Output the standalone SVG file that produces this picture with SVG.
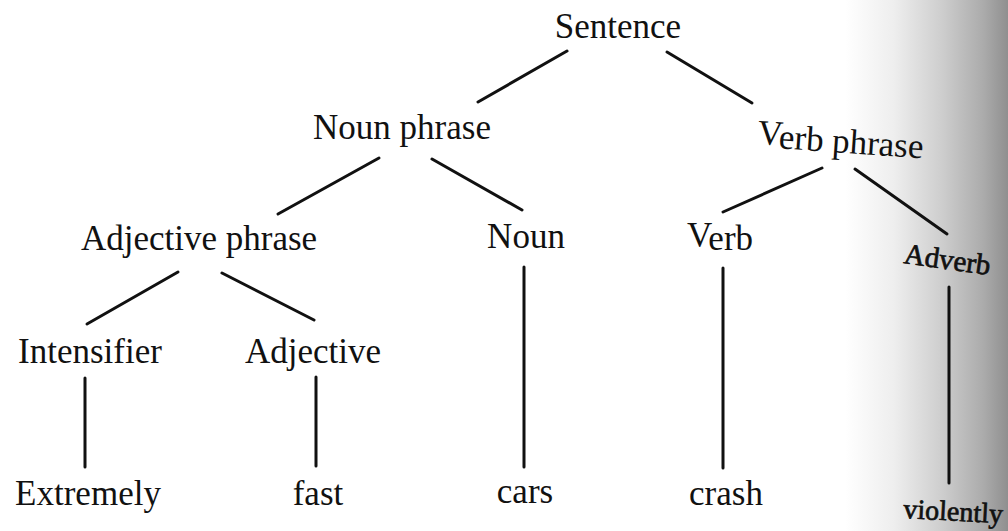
<svg xmlns="http://www.w3.org/2000/svg" width="1008" height="531" viewBox="0 0 1008 531">
  <defs>
    <linearGradient id="pageShade" x1="845" y1="0" x2="1008" y2="0" gradientUnits="userSpaceOnUse">
      <stop offset="0" stop-color="#ffffff"/>
      <stop offset="0.3" stop-color="#eeeeee"/>
      <stop offset="0.6" stop-color="#cdcdcd"/>
      <stop offset="0.85" stop-color="#ababab"/>
      <stop offset="1" stop-color="#8f8f8f"/>
    </linearGradient>
  </defs>
  <style>
    .lbl { font-family: "Liberation Serif", "Times New Roman", serif; font-size: 35px; fill: #111; text-anchor: middle; }
    .lbl.curl { font-size: 29px; text-anchor: start; stroke: #111; stroke-width: 0.7; }
    .edge { stroke: #111; stroke-width: 3; stroke-linecap: round; fill: none; }
  </style>

  <!-- paper, with the shading where the page bends towards the binding -->
  <rect x="0" y="0" width="1008" height="531" fill="#ffffff"/>
  <rect x="845" y="0" width="163" height="531" fill="url(#pageShade)"/>

  <!-- tree branches -->
  <g id="connectors">
    <line class="edge" x1="567" y1="51" x2="478" y2="102"/>
    <line class="edge" x1="667" y1="52" x2="752" y2="103"/>
    <line class="edge" x1="379" y1="158" x2="278" y2="214"/>
    <line class="edge" x1="432" y1="159" x2="522" y2="210"/>
    <line class="edge" x1="822" y1="168" x2="723" y2="212"/>
    <line class="edge" x1="855" y1="169" x2="947" y2="234"/>
    <line class="edge" x1="178" y1="272" x2="87" y2="324"/>
    <line class="edge" x1="222" y1="273" x2="314" y2="320"/>
    <line class="edge" x1="85" y1="378" x2="85" y2="467"/>
    <line class="edge" x1="316" y1="377" x2="316" y2="466"/>
    <line class="edge" x1="524" y1="267" x2="524" y2="467"/>
    <line class="edge" x1="723" y1="268" x2="723" y2="468"/>
    <line class="edge" x1="949" y1="287" x2="949" y2="483"/>
  </g>

  <g id="sentence"><text class="lbl" x="618" y="38">Sentence</text></g>
  <g id="noun-phrase"><text class="lbl" x="402" y="139">Noun phrase</text></g>
  <g id="verb-phrase" transform="rotate(4 760 147)">
    <text class="lbl" x="840" y="147"><tspan dy="-3">V</tspan><tspan dy="3">erb phrase</tspan></text>
  </g>
  <g id="adjective-phrase"><text class="lbl" x="199" y="250">Adjective phrase</text></g>
  <g id="noun"><text class="lbl" x="526" y="248">Noun</text></g>
  <g id="verb"><text class="lbl" x="720" y="250"><tspan dy="-3">V</tspan><tspan dy="3">erb</tspan></text></g>
  <g id="adverb" transform="rotate(8 903 263)"><text class="lbl curl" x="903" y="263">Adverb</text></g>
  <g id="intensifier"><text class="lbl" x="90" y="363">Intensifier</text></g>
  <g id="adjective"><text class="lbl" x="313" y="363">Adjective</text></g>
  <g id="extremely"><text class="lbl" x="88" y="505">Extremely</text></g>
  <g id="fast"><text class="lbl" x="318" y="505">fast</text></g>
  <g id="cars"><text class="lbl" x="525" y="503">cars</text></g>
  <g id="crash"><text class="lbl" x="726" y="505">crash</text></g>
  <g id="violently" transform="rotate(3 903 518)"><text class="lbl curl" x="903" y="518" style="font-size:28px">violently</text></g>
</svg>
